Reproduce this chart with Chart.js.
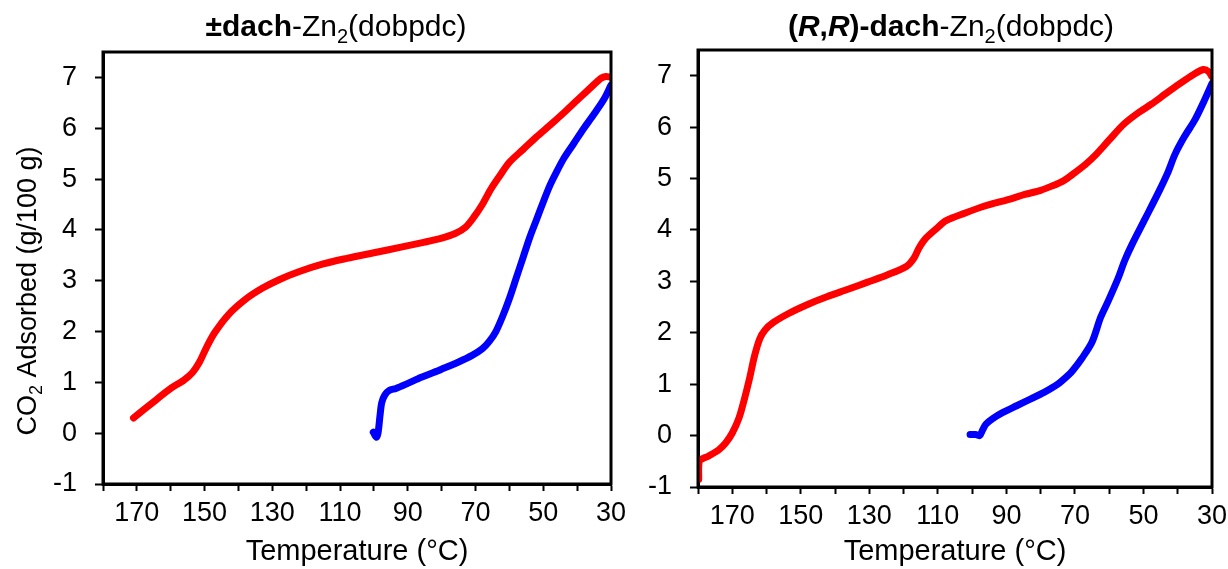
<!DOCTYPE html>
<html>
<head>
<meta charset="utf-8">
<script src="https://cdn.jsdelivr.net/npm/chart.js@4/dist/chart.umd.min.js"></script>
<style>
  html, body { margin: 0; padding: 0; background: #fff; }
  #wrap { position: relative; width: 1228px; height: 569px; }
  .box { position: absolute; top: 0; height: 569px; }
</style>
</head>
<body>
<div id="wrap">
  <div class="box" style="left:0; width:640px"><canvas id="leftChart"></canvas></div>
  <div class="box" style="left:614px; width:614px"><canvas id="rightChart"></canvas></div>
</div>
<script>
// values (temperature in °C, CO2 in g/100 g)
const leftRedT = [171, 165, 160, 156, 153.5, 151.5, 149.5, 147, 143, 138, 133, 128, 122, 115, 108, 100, 92, 85, 80, 76, 73, 70.5, 68, 65.5, 63, 60, 56, 52, 48, 44, 40, 36, 33, 31.5, 30];
const leftRedV = [0.30, 0.62, 0.88, 1.05, 1.2, 1.4, 1.68, 1.98, 2.33, 2.63, 2.85, 3.02, 3.18, 3.33, 3.44, 3.55, 3.66, 3.76, 3.84, 3.93, 4.05, 4.25, 4.5, 4.8, 5.05, 5.33, 5.58, 5.83, 6.06, 6.3, 6.55, 6.8, 6.98, 7.02, 7.0];
const leftBlueT = [100.2, 99.3, 98.8, 98.2, 97.7, 96.8, 95.5, 93.5, 90, 86, 80, 75, 71, 68, 66, 64, 62, 60, 58, 56, 54, 52, 50, 48, 46, 44, 41, 38, 35, 32, 30];
const leftBlueV = [0.02, -0.08, 0.0, 0.35, 0.6, 0.75, 0.84, 0.88, 0.98, 1.1, 1.26, 1.4, 1.53, 1.66, 1.8, 2.0, 2.3, 2.65, 3.05, 3.45, 3.85, 4.2, 4.55, 4.88, 5.15, 5.4, 5.7, 6.0, 6.28, 6.58, 6.85];

const rightRedT = [179.8, 179.6, 177, 174, 172, 170, 168, 166.5, 165, 163.5, 162, 160.5, 158, 153.7, 148, 142.4, 136, 130.7, 125, 119.2, 117, 115.5, 113.5, 110, 107.6, 102, 96.1, 90, 84.6, 80, 76.5, 73.5, 70.7, 67, 63.8, 60, 55.7, 51.5, 47.6, 43.5, 39.5, 35.5, 32.5, 31, 30];
const rightRedV = [-0.85, -0.5, -0.4, -0.28, -0.15, 0.05, 0.35, 0.7, 1.1, 1.55, 1.88, 2.05, 2.2, 2.37, 2.55, 2.70, 2.85, 2.98, 3.12, 3.29, 3.45, 3.65, 3.84, 4.05, 4.18, 4.33, 4.47, 4.58, 4.69, 4.77, 4.86, 4.95, 5.08, 5.27, 5.47, 5.75, 6.06, 6.28, 6.45, 6.65, 6.84, 7.02, 7.12, 7.08, 6.98];
const rightBlueT = [100.6, 99, 97.8, 97, 96, 94, 91, 87, 83, 79, 75, 72, 70.7, 68, 65, 62.5, 60.4, 57.4, 55.5, 53.4, 49.5, 45.4, 43, 40.8, 38, 35, 32.5, 30];
const rightBlueV = [0.02, 0.02, 0.0, 0.1, 0.22, 0.33, 0.45, 0.58, 0.71, 0.84, 1.0, 1.17, 1.26, 1.5, 1.82, 2.3, 2.6, 3.06, 3.4, 3.71, 4.22, 4.76, 5.1, 5.47, 5.82, 6.14, 6.48, 6.85];

const tickLabels = ['170', '150', '130', '110', '90', '70', '50', '30'];

const FONT = "'Liberation Sans', Arial, sans-serif";

function toPoints(ts, vs) {
  return ts.map((t, i) => ({ x: t, y: vs[i] }));
}

// draws a line of text made of pieces with different styles
function drawRich(ctx, pieces, size, cx, baseY) {
  const fontOf = p => {
    const s = p.sub ? Math.round(size * 0.65) : size;
    return (p.i ? 'italic ' : '') + (p.b ? 'bold ' : '') + s + 'px ' + FONT;
  };
  let total = 0;
  pieces.forEach(p => { ctx.font = fontOf(p); total += ctx.measureText(p.t).width; });
  let x = cx - total / 2;
  ctx.textAlign = 'left';
  ctx.textBaseline = 'alphabetic';
  ctx.fillStyle = '#000';
  pieces.forEach(p => {
    ctx.font = fontOf(p);
    ctx.fillText(p.t, x, baseY + (p.sub ? size * 0.22 : 0));
    x += ctx.measureText(p.t).width;
  });
}

function framePlugin(title, titleX, withYTitle) {
  return {
    id: 'frame',
    afterDraw(chart) {
      const { ctx, chartArea: a } = chart;
      ctx.save();
      ctx.strokeStyle = '#000';
      ctx.lineWidth = 3;
      ctx.strokeRect(a.left, a.top, a.right - a.left, a.bottom - a.top);
      drawRich(ctx, title, 30, titleX, 36);
      if (withYTitle) {
        ctx.translate(27, 291);
        ctx.rotate(-Math.PI / 2);
        drawRich(ctx, [{ t: 'CO' }, { t: '2', sub: 1 }, { t: ' Adsorbed (g/100 g)' }], 27, 0, 9);
      }
      ctx.restore();
    }
  };
}

function makeChart(id, red, blue, yWidth, pad, xHeight, title, titleX, withYTitle) {
  const ctx = document.getElementById(id).getContext('2d');
  return new Chart(ctx, {
    type: 'line',
    data: {
      datasets: [{
        data: red,
        borderColor: '#ff0000',
        borderWidth: 7,
        pointRadius: 0,
        tension: 0.3,
        borderCapStyle: 'round',
        borderJoinStyle: 'round'
      }, {
        data: blue,
        borderColor: '#0000ff',
        borderWidth: 7,
        pointRadius: 0,
        tension: 0.3,
        borderCapStyle: 'round',
        borderJoinStyle: 'round'
      }]
    },
    options: {
      responsive: true,
      maintainAspectRatio: false,
      animation: false,
      layout: { padding: pad },
      plugins: { legend: { display: false }, tooltip: { enabled: false } },
      scales: {
        x: {
          type: 'linear',
          reverse: true,
          min: 30,
          max: 180,
          afterFit: s => { s.height = xHeight; s.paddingLeft = 0; s.paddingRight = 0; },
          border: { display: true, color: '#000', width: 3 },
          grid: { drawOnChartArea: false, drawTicks: true, tickLength: 7, tickWidth: 2, tickColor: '#000' },
          ticks: {
            stepSize: 10,
            color: '#000',
            padding: 6,
            maxRotation: 0,
            autoSkip: false,
            font: { family: FONT, size: 27 },
            callback: v => tickLabels.includes(String(v)) ? String(v) : ''
          },
          title: {
            display: true,
            text: 'Temperature (°C)',
            color: '#000',
            font: { family: FONT, size: 29 },
            padding: { top: 0, bottom: 0 }
          }
        },
        y: {
          min: -1,
          max: 7.5,
          afterFit: s => { s.width = yWidth; s.paddingTop = 0; s.paddingBottom = 0; },
          border: { display: true, color: '#000', width: 3 },
          grid: { drawOnChartArea: false, drawTicks: true, tickLength: 8, tickWidth: 2, tickColor: '#000' },
          ticks: {
            stepSize: 0.5,
            color: '#000',
            padding: 18,
            font: { family: FONT, size: 27 },
            callback: v => Number.isInteger(v) ? String(v) : ''
          }
        }
      }
    },
    plugins: [framePlugin(title, titleX, withYTitle)]
  });
}

makeChart('leftChart', toPoints(leftRedT, leftRedV), toPoints(leftBlueT, leftBlueV),
  103, { left: 0, right: 29, top: 52, bottom: 0 }, 85,
  [{ t: '±dach', b: 1 }, { t: '-Zn' }, { t: '2', sub: 1 }, { t: '(dobpdc)' }], 336, true);

makeChart('rightChart', toPoints(rightRedT, rightRedV), toPoints(rightBlueT, rightBlueV),
  84, { left: 0, right: 16, top: 50, bottom: 0 }, 82,
  [{ t: '(', b: 1 }, { t: 'R', b: 1, i: 1 }, { t: ',', b: 1 }, { t: 'R', b: 1, i: 1 }, { t: ')-dach', b: 1 },
   { t: '-Zn' }, { t: '2', sub: 1 }, { t: '(dobpdc)' }], 337, false);
</script>
</body>
</html>
